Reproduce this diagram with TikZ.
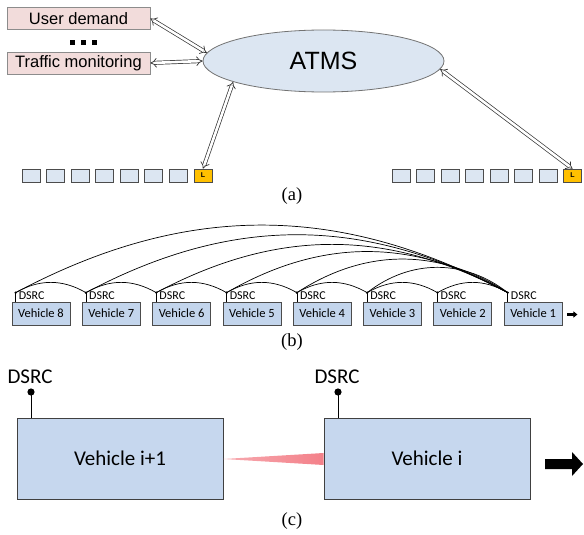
\documentclass[tikz,border=0pt]{standalone}
\usepackage{fontspec}
\setmainfont{Liberation Serif}
\newfontfamily\arialf{Liberation Sans}
\newfontfamily\calf{Carlito}
\usetikzlibrary{arrows.meta,shapes.geometric,calc}
\definecolor{pinkbox}{HTML}{F2DCDB}
\definecolor{atmsfill}{HTML}{DCE6F2}
\definecolor{smallcar}{HTML}{DCE6F2}
\definecolor{leadcar}{HTML}{FFC000}
\definecolor{carb}{HTML}{C3D5EC}
\definecolor{carc}{HTML}{C6D7EE}
\definecolor{wedge}{HTML}{F2727C}
\tikzset{
  srcbox/.style={draw=black!45, fill=pinkbox, line width=0.8pt, minimum width=143pt, minimum height=22pt, inner sep=0pt, font=\arialf\fontsize{16.5}{18}\selectfont},
  dblarrow/.style={double=white, double distance=2.6pt, line width=0.7pt, draw=black!80, {Implies[length=5pt]}-{Implies[length=5pt]}},
  acar/.style={draw=black!70, fill=smallcar, line width=0.6pt, minimum width=18pt, minimum height=13pt, inner sep=0pt},
  lcar/.style={draw=black!70, fill=leadcar, line width=0.6pt, minimum width=18pt, minimum height=13pt, inner sep=0pt, font=\arialf\bfseries\fontsize{7}{8}\selectfont},
  bcar/.style={draw=black!70, fill=carb, line width=0.7pt, minimum width=58pt, minimum height=23pt, inner sep=0pt, font=\calf\fontsize{12.5}{14}\selectfont},
  ccar/.style={draw=black!75, fill=carc, line width=0.8pt, minimum width=206pt, minimum height=81pt, inner sep=0pt, font=\calf\fontsize{21}{24}\selectfont},
  dsrcb/.style={font=\calf\fontsize{12}{13}\selectfont, inner sep=0pt, anchor=base west},
  dsrcc/.style={font=\calf\fontsize{21}{24}\selectfont, inner sep=0pt},
  capt/.style={font=\fontsize{18.5}{20}\selectfont, inner sep=0pt},
  link/.style={line width=0.7pt, black},
}
\begin{document}
\begin{tikzpicture}[x=1pt,y=-1pt]
\useasboundingbox (0,0) rectangle (584,535);
% ---------------- (a)
\node[srcbox] (ud) at (78.5,18.5) {User demand};
\node[srcbox] (tm) at (78.5,63) {Traffic monitoring};
\foreach \dx in {0,11,22} \fill (70+\dx,40) rectangle ++(5,5);
\node[ellipse, draw=black!55, fill=atmsfill, line width=0.8pt, minimum width=241pt, minimum height=62pt, inner sep=0pt, font=\arialf\fontsize{25}{28}\selectfont] (atms) at (323.5,61) {ATMS};
\foreach \k in {0,...,6} \node[acar] (la\k) at (31+\k*24.5,175.5) {};
\node[lcar] (lL) at (203,175.5) {L};
\foreach \k in {0,...,6} \node[acar] (ra\k) at (401+\k*24.5,175.5) {};
\node[lcar] (rL) at (572.5,175.5) {L};
\draw[dblarrow] (ud.east) -- (atms.176);
\draw[dblarrow] (tm.east) -- (atms.180);
\draw[dblarrow] (atms.193) -- (lL.north);
\draw[dblarrow] (atms.-4) -- (rL.north);
\node[capt] (ca) at (292,196) {(a)};
% ---------------- (b)
\foreach \k in {1,...,8} {
  \node[bcar] (v\k) at ({41+(8-\k)*70.3},313.5) {Vehicle \k};
  \coordinate (t\k) at ($(v\k.north west)+(4,-9)$);
  \draw[line width=0.6pt] ($(v\k.north west)+(4,0)$) -- (t\k);
  \fill (t\k) circle (1.3pt);
  \node[dsrcb] (d\k) at ($(v\k.north west)+(7,-2.5)$) {DSRC};
}
\foreach \k/\j in {8/7,7/6,6/5,5/4,4/3,3/2,2/1}
  \draw[link] (t\k) to[bend left=30] (t\j);
\foreach \k/\b in {8/28,7/28,6/28,5/30,4/33,3/38}
  \draw[link] (t\k) to[bend left=\b] (t1);
\coordinate (bstart) at ($(v1.east)+(5,1)$);
\coordinate (bend) at ($(v1.east)+(15,1)$);
\draw[line width=2.2pt, -{Triangle[length=4pt,width=6pt]}] (bstart) -- (bend);
\node[capt] (cb) at (292,342) {(b)};
% ---------------- (c)
\node[ccar] (ci1) at (120,458.5) {Vehicle i+1};
\node[ccar] (ci) at (427,458.5) {Vehicle i};
\coordinate (ae1) at (31,392);
\coordinate (ae) at (338,392);
\draw[line width=1pt] (ae1) -- (ae1 |- ci1.north);
\draw[line width=1pt] (ae) -- (ae |- ci.north);
\fill (ae1) circle (3.6pt);
\fill (ae) circle (3.6pt);
\node[dsrcc] (dc1) at (30,377) {DSRC};
\node[dsrcc] (dc) at (337,377) {DSRC};
\shade[left color=wedge!60, right color=wedge!90] (ci1.east |- 0,459) -- (ci.west |- 0,453) -- (ci.west |- 0,465) -- cycle;
\fill (545,459) -- (572,459) -- (572,452) -- (583,464) -- (572,476) -- (572,469) -- (545,469) -- cycle;
\node[capt] (cc) at (292,521) {(c)};
\end{tikzpicture}
\end{document}
